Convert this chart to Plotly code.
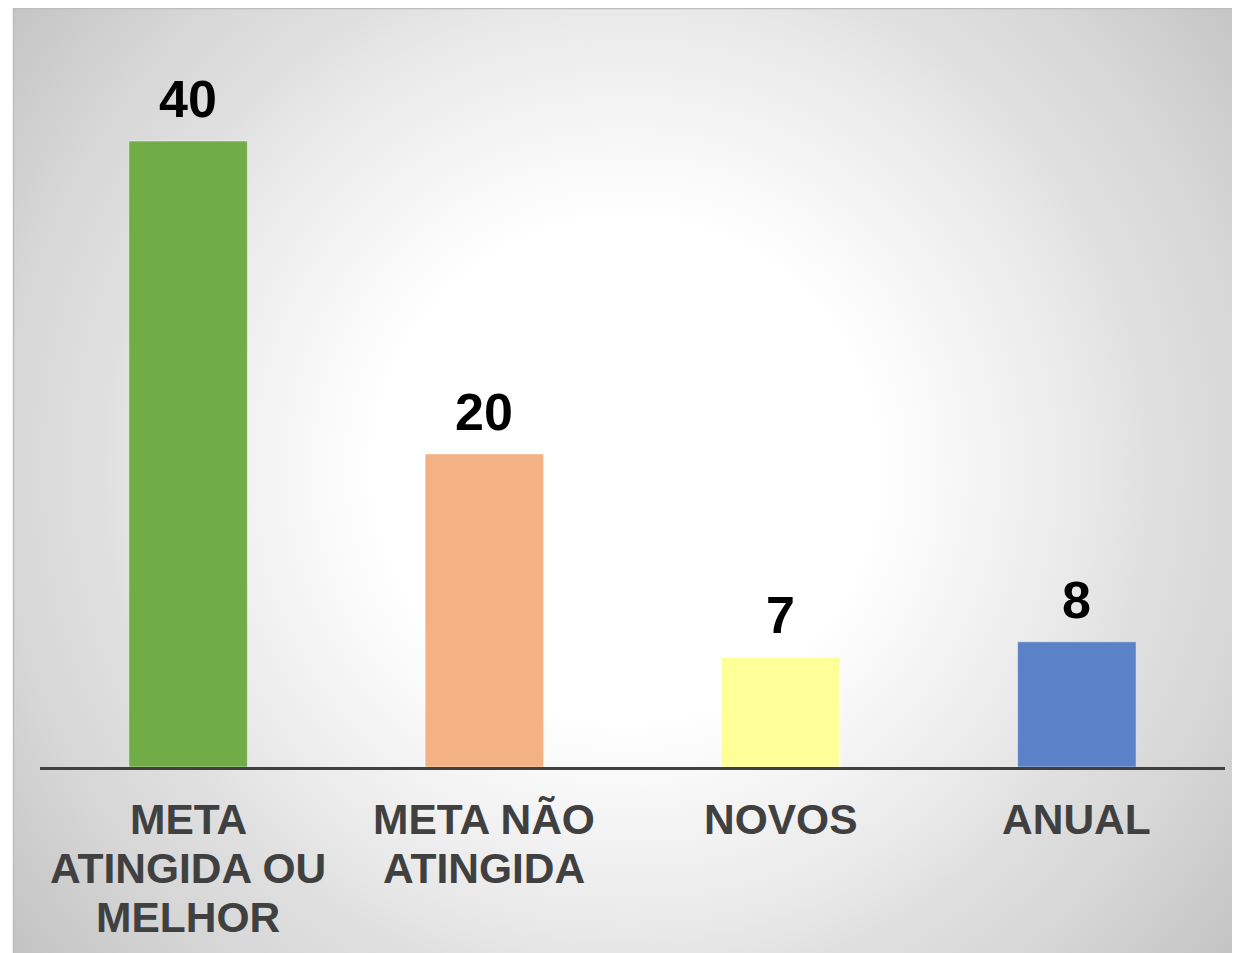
import base64
import plotly.graph_objects as go

# ---- data ----
categories = ["META<br>ATINGIDA OU<br>MELHOR", "META NÃO<br>ATINGIDA", "NOVOS", "ANUAL"]
values = [40, 20, 7, 8]
bar_colors = ["#70AD47", "#F4B183", "#FFFF99", "#5B81C8"]

# page body has an 8px margin, so the figure fills the rest of the window
W, H = 1232, 945

# radial gradient background as an inline SVG image
svg = f'''<svg xmlns="http://www.w3.org/2000/svg" width="{W}" height="{H}" viewBox="0 0 {W} {H}" preserveAspectRatio="none">
<defs>
<radialGradient id="g" gradientUnits="userSpaceOnUse" cx="618" cy="462" r="780">
<stop offset="0" stop-color="#ffffff"/>
<stop offset="0.32" stop-color="#ffffff"/>
<stop offset="0.48" stop-color="#f2f2f2"/>
<stop offset="0.60" stop-color="#e8e8e8"/>
<stop offset="0.67" stop-color="#e0e0e0"/>
<stop offset="0.80" stop-color="#d7d7d7"/>
<stop offset="1" stop-color="#c3c3c3"/>
</radialGradient>
</defs>
<rect x="0" y="0" width="{W}" height="{H}" fill="#ffffff"/>
<rect x="5" y="0" width="{W-5}" height="{H}" fill="url(#g)"/>
<line x1="5.5" y1="0" x2="5.5" y2="{H}" stroke="#bdbdbd" stroke-width="1.5"/>
<line x1="5" y1="0.5" x2="{W}" y2="0.5" stroke="#bdbdbd" stroke-width="1.5"/>
</svg>'''
src = "data:image/svg+xml;base64," + base64.b64encode(svg.encode("utf-8")).decode("ascii")

fig = go.Figure()
fig.add_trace(go.Bar(
    x=categories, y=values, width=0.4,
    marker=dict(color=bar_colors, line=dict(color="rgba(255,255,255,0.45)", width=1)),
    hoverinfo="skip",
))

# value labels above bars
for c, v in zip(categories, values):
    fig.add_annotation(x=c, y=v, text=str(v), showarrow=False, yanchor="bottom",
                       yshift=11,
                       font=dict(family="Liberation Sans, Arial", size=52, color="#000000", weight="bold"))

# category labels, one annotation per text line (tight line spacing)
for c in categories:
    for i, line in enumerate(c.split("<br>")):
        fig.add_annotation(x=c, y=0, text=line, showarrow=False, yanchor="top",
                           yshift=-27 - 49 * i,
                           font=dict(family="Liberation Sans, Arial", size=42.5, color="#404040", weight="bold"))

base_px = 759
top_px = 72
bar40_top = 133
y0 = (H - base_px) / H
y1 = (H - top_px) / H
ymax = 40 * (base_px - top_px) / (base_px - bar40_top)

fig.update_layout(
    width=W, height=H,
    margin=dict(l=0, r=0, t=0, b=0),
    paper_bgcolor="#ffffff",
    plot_bgcolor="rgba(0,0,0,0)",
    showlegend=False,
    images=[dict(source=src, xref="paper", yref="paper", x=0, y=1, sizex=1, sizey=1,
                 xanchor="left", yanchor="top", sizing="stretch", layer="below")],
    xaxis=dict(domain=[32 / W, 1217 / W], range=[-0.5, 3.5], showgrid=False, zeroline=False,
               showline=True, linecolor="#404040", linewidth=2.5,
               ticks="", showticklabels=False, fixedrange=True),
    yaxis=dict(domain=[y0, y1], range=[0, ymax], visible=False, fixedrange=True),
)

fig.write_html("out.html")
